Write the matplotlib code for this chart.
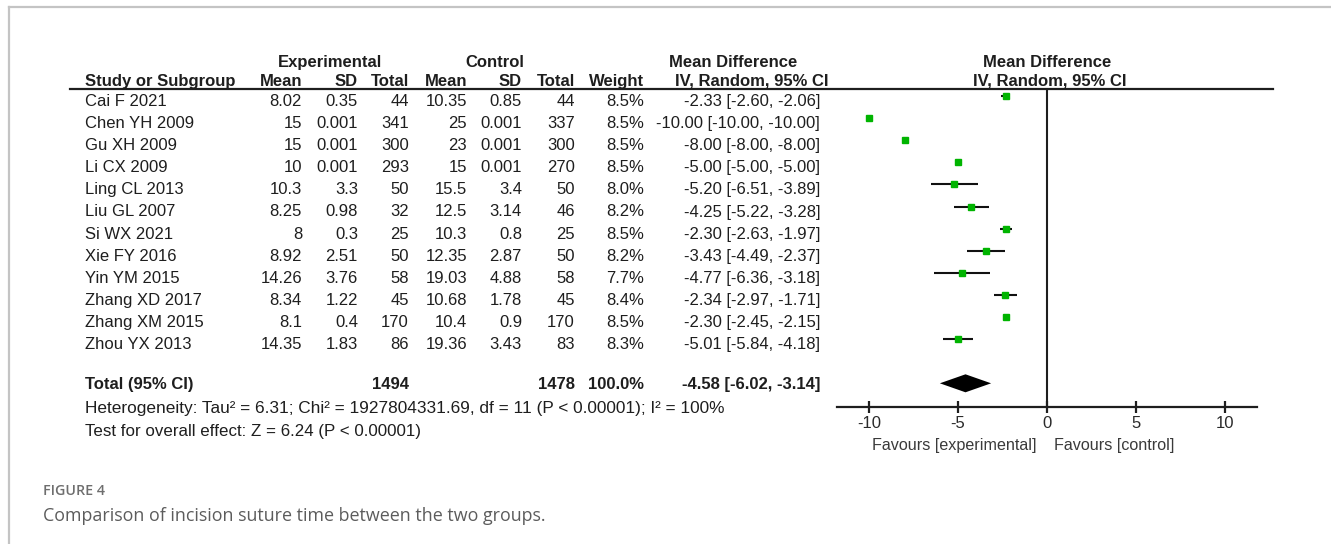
import matplotlib
matplotlib.use("Agg")
import matplotlib.pyplot as plt
from matplotlib.lines import Line2D
import numpy as np

# study-level data
studies = ["Cai F 2021", "Chen YH 2009", "Gu XH 2009", "Li CX 2009", "Ling CL 2013",
           "Liu GL 2007", "Si WX 2021", "Xie FY 2016", "Yin YM 2015", "Zhang XD 2017",
           "Zhang XM 2015", "Zhou YX 2013"]
exp_mean = [8.02, 15, 15, 10, 10.3, 8.25, 8, 8.92, 14.26, 8.34, 8.1, 14.35]
exp_sd = [0.35, 0.001, 0.001, 0.001, 3.3, 0.98, 0.3, 2.51, 3.76, 1.22, 0.4, 1.83]
exp_n = [44, 341, 300, 293, 50, 32, 25, 50, 58, 45, 170, 86]
ctl_mean = [10.35, 25, 23, 15, 15.5, 12.5, 10.3, 12.35, 19.03, 10.68, 10.4, 19.36]
ctl_sd = [0.85, 0.001, 0.001, 0.001, 3.4, 3.14, 0.8, 2.87, 4.88, 1.78, 0.9, 3.43]
ctl_n = [44, 337, 300, 270, 50, 46, 25, 50, 58, 45, 170, 83]
weight = [8.5, 8.5, 8.5, 8.5, 8.0, 8.2, 8.5, 8.2, 7.7, 8.4, 8.5, 8.3]
md = [-2.33, -10.00, -8.00, -5.00, -5.20, -4.25, -2.30, -3.43, -4.77, -2.34, -2.30, -5.01]
ci_lo = [-2.60, -10.00, -8.00, -5.00, -6.51, -5.22, -2.63, -4.49, -6.36, -2.97, -2.45, -5.84]
ci_hi = [-2.06, -10.00, -8.00, -5.00, -3.89, -3.28, -1.97, -2.37, -3.18, -1.71, -2.15, -4.18]

# pooled result
total_exp_n = 1494
total_ctl_n = 1478
total_weight = 100.0
total_md = -4.58
total_lo = -6.02
total_hi = -3.14
heterogeneity = "Heterogeneity: Tau\u00b2 = 6.31; Chi\u00b2 = 1927804331.69, df = 11 (P < 0.00001); I\u00b2 = 100%"
overall = "Test for overall effect: Z = 6.24 (P < 0.00001)"

W, H = 1331, 544
fig = plt.figure(figsize=(W / 100, H / 100), dpi=100)
fig.patch.set_facecolor("white")

FONT = "Liberation Sans"
TXT = "#1e1e1e"
FS = 12


def px(x, y):
    return x / W, 1 - y / H


def put(x, y, s, ha="left", bold=False, size=FS, color=TXT, family=FONT):
    fig.text(*px(x, y), s, ha=ha, va="baseline", fontsize=size, family=family,
             fontweight="bold" if bold else "normal", color=color)


# frame lines
fig.add_artist(Line2D([9 / W, 1], [1 - 7 / H] * 2, color="#c4c4c4", lw=1.6))
fig.add_artist(Line2D([9 / W] * 2, [0, 1 - 7 / H], color="#c4c4c4", lw=1.6))

# column right edges
col_x = [302, 358, 409, 467, 522, 575, 644]
line_y = 89

# headers
hy1, hy2 = 67, 86
put(330, hy1, "Experimental", ha="center", bold=True)
put(495, hy1, "Control", ha="center", bold=True)
put(733, hy1, "Mean Difference", ha="center", bold=True)
put(1047, hy1, "Mean Difference", ha="center", bold=True)
put(85, hy2, "Study or Subgroup", bold=True)
for x, lab in zip(col_x, ["Mean", "SD", "Total", "Mean", "SD", "Total", "Weight"]):
    put(x, hy2, lab, ha="right", bold=True)
put(752, hy2, "IV, Random, 95% CI", ha="center", bold=True)
put(1050, hy2, "IV, Random, 95% CI", ha="center", bold=True)
fig.add_artist(Line2D([70 / W, 1273 / W], [1 - line_y / H] * 2, color="#1e1e1e", lw=1.6))

# table rows
row0, step = 97, 22.1
for i, name in enumerate(studies):
    yb = row0 + step * i + 9
    put(85, yb, name)
    vals = [f"{exp_mean[i]:g}", f"{exp_sd[i]:g}", f"{exp_n[i]}",
            f"{ctl_mean[i]:g}", f"{ctl_sd[i]:g}", f"{ctl_n[i]}", f"{weight[i]:.1f}%"]
    for x, v in zip(col_x, vals):
        put(x, yb, v, ha="right")
    put(820, yb, f"{md[i]:.2f} [{ci_lo[i]:.2f}, {ci_hi[i]:.2f}]", ha="right")

yb = row0 + step * 13 + 5
put(85, yb, "Total (95% CI)", bold=True)
put(409, yb, f"{total_exp_n}", ha="right", bold=True)
put(575, yb, f"{total_ctl_n}", ha="right", bold=True)
put(644, yb, f"{total_weight:.1f}%", ha="right", bold=True)
put(820, yb, f"{total_md:.2f} [{total_lo:.2f}, {total_hi:.2f}]", ha="right", bold=True)
put(85, 413, heterogeneity, size=12.4)
put(85, 436, overall, size=12.2)

# caption
fig.text(*px(43, 495), "FIGURE 4", family="Open Sans", fontweight="semibold",
         fontsize=10.3, color="#6e6e6e", va="baseline")
fig.text(*px(43, 521), "Comparison of incision suture time between the two groups.",
         family="Open Sans", fontsize=12.9, color="#5c5c5c", va="baseline")

# forest panel
ax_top, ax_bot = line_y, 407
ax = fig.add_axes([837 / W, 1 - ax_bot / H, 420 / W, (ax_bot - ax_top) / H])
ax.set_xlim(-11.8, 11.8)
ax.set_ylim((ax_bot - row0 + 1) / step, (ax_top - row0 + 1) / step)
ax.patch.set_alpha(0)
for s in ["top", "right", "left"]:
    ax.spines[s].set_visible(False)
ax.spines["bottom"].set_linewidth(1.6)
ax.spines["bottom"].set_color("#1e1e1e")
ax.set_yticks([])
ax.set_xticks([-10, -5, 0, 5, 10])
ax.set_xticklabels(["-10", "-5", "0", "5", "10"], family=FONT, fontsize=FS, color="#2a2a2a")
ax.tick_params(axis="x", direction="inout", length=9, width=1.6, color="#1e1e1e", pad=2)
ax.axvline(0, color="#1e1e1e", lw=1.5)

ys = np.arange(len(studies))
for y, m, lo, hi, w in zip(ys, md, ci_lo, ci_hi, weight):
    ax.plot([lo, hi], [y, y], color="#111111", lw=1.5, solid_capstyle="butt", zorder=2)
    ax.plot(m, y, marker="s", ms=4.7 * np.sqrt(w / 8.5), color="#00b400", mec="#00b400", zorder=3)

yd = 13
hh = 9 / step
ax.fill([total_lo, total_md, total_hi, total_md], [yd, yd - hh, yd, yd + hh], color="black", lw=0)

put(1037, 450, "Favours [experimental]", ha="right", size=11.6, color="#3a3a3a")
put(1054, 450, "Favours [control]", size=11.6, color="#3a3a3a")

fig.savefig("out.png", dpi=100, facecolor="white")
